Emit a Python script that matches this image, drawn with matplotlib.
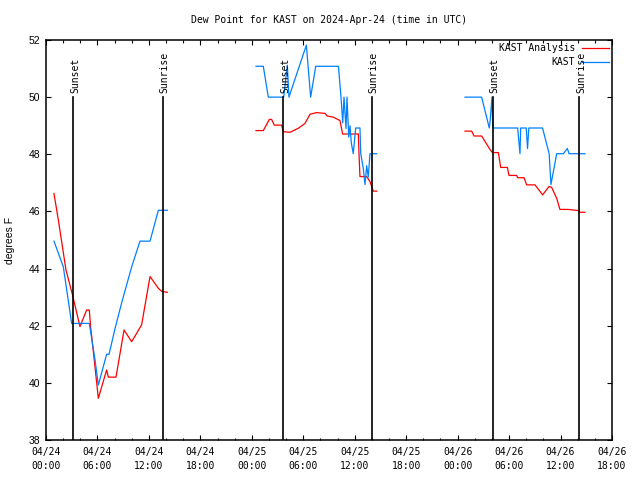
import numpy as np
import matplotlib
matplotlib.use("Agg")
import matplotlib.pyplot as plt

nan = np.nan

# Hours since 2024-04-24 00:00 UTC
analysis_hours = [0.93, 1.44, 2.33, 3.1, 3.96, 4.74, 5.05, 5.2, 5.71, 6.1, 7.07, 7.27, 8.16, 9.1, 9.99, 11.15,
                  12.13, 13.1, 13.5, 14.15, nan,
                  24.49, 25.34, 26.04, 26.31, 26.62, 27.48, 27.67, 28.45, 29.42, 30.2, 30.78, 31.56, 32.53,
                  32.8, 33.5, 34.28, 34.59, 36.42, 36.5, 36.61, 37.4, 37.78, 38.17, 38.56, nan,
                  48.86, 49.64, 49.91, 50.8, 51.77, 52.05, 52.75, 53.02, 53.8, 53.99, 54.88, 55.0, 55.74,
                  56.05, 57.02, 57.91, 58.65, 58.95, 59.55, 59.93, 60.9, 62.07, 62.27, 62.85]
analysis_vals = [46.63, 45.7, 43.95, 43.07, 41.97, 42.55, 42.55, 41.97, 40.57, 39.46, 40.45, 40.2, 40.2, 41.85,
                 41.44, 42.03, 43.72, 43.31, 43.2, 43.17, nan,
                 48.83, 48.83, 49.22, 49.22, 49.02, 49.02, 48.79, 48.77, 48.91, 49.08, 49.4, 49.46, 49.43,
                 49.34, 49.3, 49.18, 48.71, 48.71, 48.0, 47.22, 47.22, 47.04, 46.71, 46.71, nan,
                 48.81, 48.81, 48.64, 48.64, 48.17, 48.06, 48.06, 47.54, 47.54, 47.26, 47.26, 47.18, 47.18,
                 46.93, 46.93, 46.58, 46.87, 46.85, 46.46, 46.07, 46.07, 46.03, 45.97, 45.97]

obs_hours = [0.93, 2.02, 2.99, 5.05, 5.71, 6.1, 7.07, 7.35, 8.05, 8.82, 9.99, 10.96, 12.13, 13.1, 14.15, nan,
             24.49, 25.34, 25.92, 27.72, 28.14, 28.33, 30.36, 30.86, 31.45, 34.1, 34.4, 34.6, 34.75, 34.98,
             35.1, 35.3, 35.45, 35.6, 35.83, 36.11, 36.61, 36.7, 37.0, 37.2, 37.39, 37.58, 37.78, 38.56, nan,
             48.86, 50.8, 51.69, 51.8, 52.0, 52.1, 55.0, 55.27, 55.35, 56.0, 56.15, 56.3, 57.9, 58.67,
             58.88, 59.55, 60.32, 60.79, 61.0, 62.85]
obs_vals = [44.96, 44.06, 42.08, 42.08, 40.82, 39.92, 41.0, 41.0, 41.9, 42.8, 44.06, 44.96, 44.96, 46.04, 46.04, nan,
            51.08, 51.08, 50.0, 50.0, 51.12, 50.0, 51.82, 50.0, 51.08, 51.08, 50.0, 49.1, 50.0, 48.9,
            50.0, 48.6, 49.0, 48.4, 48.02, 48.92, 48.92, 48.02, 47.5, 46.94, 47.6, 47.2, 48.02, 48.02, nan,
            50.0, 50.0, 48.92, 49.2, 50.0, 48.92, 48.92, 48.02, 48.92, 48.92, 48.2, 48.92, 48.92, 48.02,
            46.94, 48.02, 48.02, 48.2, 48.02, 48.02]

sunset_hours = [3.18, 27.67, 52.08]
sunrise_hours = [13.6, 37.98, 62.19]

tick_hours = list(range(0, 67, 6))
tick_labels = ["04/24\n00:00", "04/24\n06:00", "04/24\n12:00", "04/24\n18:00",
               "04/25\n00:00", "04/25\n06:00", "04/25\n12:00", "04/25\n18:00",
               "04/26\n00:00", "04/26\n06:00", "04/26\n12:00", "04/26\n18:00"]

mono = "DejaVu Sans Mono"
sans = "Liberation Sans"

fig = plt.figure(figsize=(6.4, 4.8), dpi=100)
ax = fig.add_axes([46/640, 1-440/480, 566/640, 400/480])

ax.plot(analysis_hours, analysis_vals, color="#ff0000", lw=0.9)
ax.plot(obs_hours, obs_vals, color="#0080ff", lw=0.9)

for h in sunset_hours:
    ax.plot([h, h], [38, 50], color="black", lw=1.2)
    ax.text(h + 0.2, 50.15, "Sunset", rotation=90, ha="center", va="bottom",
            fontsize=7, family=mono)
for h in sunrise_hours:
    ax.plot([h, h], [38, 50], color="black", lw=1.2)
    ax.text(h + 0.2, 50.15, "Sunrise", rotation=90, ha="center", va="bottom",
            fontsize=7, family=mono)

ax.set_xlim(0, 66)
ax.set_ylim(38, 52)
ax.set_xticks(tick_hours)
ax.set_xticklabels(tick_labels, family=mono, fontsize=7, linespacing=1.5)
ax.set_xticks(np.arange(0, 67, 2), minor=True)
ax.set_yticks(np.arange(38, 53, 2))
for lab in ax.get_yticklabels():
    lab.set_family(sans)
    lab.set_fontsize(7.5)
ax.tick_params(axis="both", which="major", direction="in", length=3.6, width=0.8,
               top=True, right=True)
ax.tick_params(axis="x", which="minor", direction="in", length=1.8, width=0.8, top=True)
ax.tick_params(axis="x", which="major", pad=5)
ax.tick_params(axis="y", which="major", pad=4)
for s in ax.spines.values():
    s.set_linewidth(1.1)

ax.set_ylabel("degrees F", family=sans, fontsize=7.5, labelpad=10)
ax.set_title("Dew Point for KAST on 2024-Apr-24 (time in UTC)", family=mono, fontsize=7, pad=12)

# key
ax.text(0.935, 0.98, "KAST Analysis", transform=ax.transAxes, ha="right", va="center",
        family=mono, fontsize=7)
ax.plot([0.947, 0.995], [0.98, 0.98], transform=ax.transAxes, color="#ff0000", lw=0.9)
ax.text(0.935, 0.945, "KAST", transform=ax.transAxes, ha="right", va="center",
        family=mono, fontsize=7)
ax.plot([0.947, 0.995], [0.945, 0.945], transform=ax.transAxes, color="#0080ff", lw=0.9)

fig.savefig("out.png", dpi=100)
